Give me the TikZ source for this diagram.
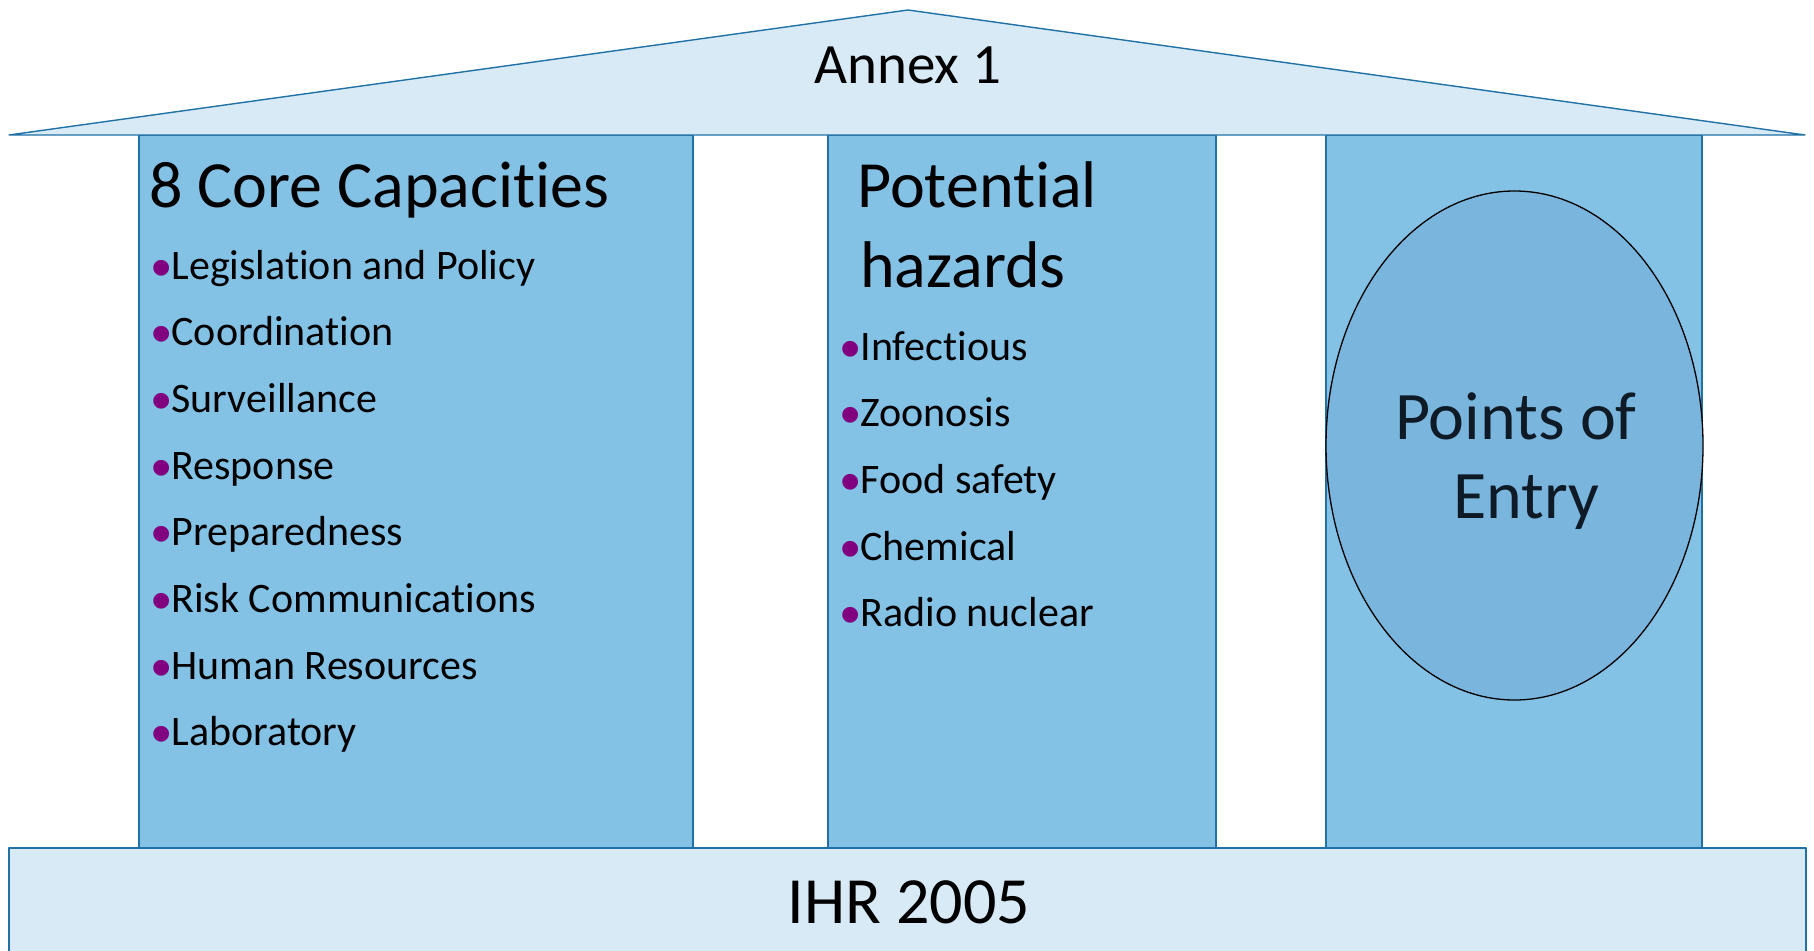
\documentclass[tikz,border=0pt]{standalone}
\usepackage{fontspec}
\setmainfont{Carlito}[Ligatures=NoCommon]
\newfontfamily\bulletfont{Liberation Sans}
% keep "t" and "i" as separate glyphs (no ti ligature)
\XeTeXinterchartokenstate=1
\newXeTeXintercharclass\tchar
\newXeTeXintercharclass\ichar
\XeTeXcharclass`t=\tchar
\XeTeXcharclass`i=\ichar
\XeTeXinterchartoks\tchar\ichar={\kern0pt }
\definecolor{roofblue}{HTML}{D7EAF5}
\definecolor{pillarblue}{HTML}{83C1E5}
\definecolor{ovalblue}{HTML}{79B5DD}
\definecolor{edgeblue}{HTML}{2171A6}
\definecolor{bulletpurple}{HTML}{800080}
\definecolor{navytext}{HTML}{0E1A26}
% enlarged, lowered purple bullet
\newcommand{\bul}{\raisebox{-8pt}{\fontsize{58}{58}\bulletfont\color{bulletpurple}\char"2022}}
\tikzset{
  slab/.style={fill=roofblue, draw=edgeblue, line width=1.4pt, line join=round},
  pillar/.style={fill=pillarblue, draw=edgeblue, line width=1.2pt},
  heading/.style={anchor=base west, inner sep=0pt, font=\fontsize{66}{80}\selectfont},
  item/.style={anchor=base west, inner sep=0pt, font=\fontsize{42}{50}\selectfont},
  label/.style={anchor=base, inner sep=0pt, font=\fontsize{#1}{#1}\selectfont},
}
\begin{document}
\begin{tikzpicture}[x=1pt,y=-1pt]
\useasboundingbox (0,0) rectangle (1814,950);
\clip (0,0) rectangle (1814,950);

% pillars
\draw[pillar] (139,135) rectangle (693,848);
\draw[pillar] (828,135) rectangle (1216,848);
\draw[pillar] (1326,135) rectangle (1702,848);

% roof and foundation
\draw[slab] (9,135) -- (908,10) -- (1805,135) -- cycle;
\draw[slab] (9,848) rectangle (1806,970);

\node[label=57] (annex) at (908,83) {Annex 1};
\node[label=66] (ihr) at (909,923) {IHR 2005};

% left pillar: core capacities
\node[heading] (core) at (149,207) {8 Core Capacities};
\foreach \t [count=\i from 0] in {Legislation and Policy, Coordination, Surveillance, Response, Preparedness, Risk Communications, Human Resources, Laboratory}
  \node[item] (cc\i) at (151,279+66.7*\i) {\bul\t};

% middle pillar: hazards
\node[heading] (pot) at (857,207) {Potential};
\node[heading] (haz) at (860,287) {hazards};
\foreach \t [count=\i from 0] in {Infectious, Zoonosis, Food safety, Chemical, Radio nuclear}
  \node[item] (hz\i) at (840,360+66.7*\i) {\bul\t};

% right pillar: points of entry
\draw[fill=ovalblue, draw=black, line width=1.3pt] (1514.5,445.5) ellipse [x radius=188.5, y radius=254.5];
\node[label=68, text=navytext] (poe1) at (1516,439) {Points of};
\node[label=68, text=navytext] (poe2) at (1526,518) {Entry};
\end{tikzpicture}
\end{document}
